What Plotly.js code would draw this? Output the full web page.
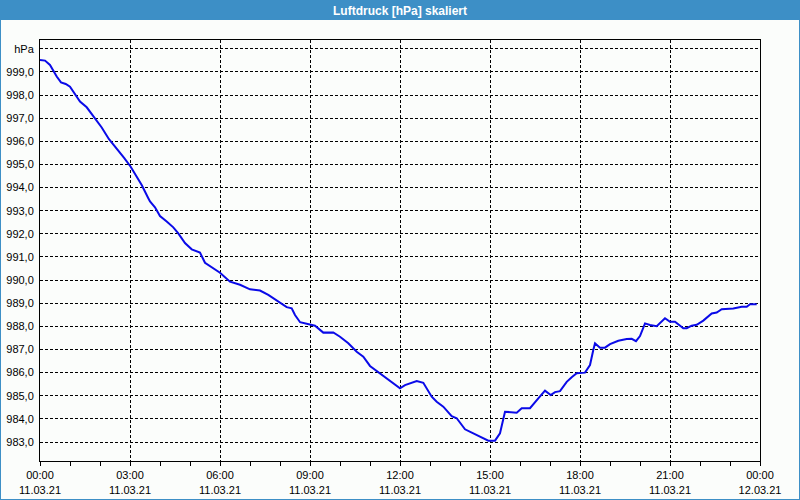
<!DOCTYPE html>
<html>
<head>
<meta charset="utf-8">
<script src="https://cdn.plot.ly/plotly-3.0.1.min.js"></script>
<style>
  html, body { margin:0; padding:0; background:#fbfdfb; }
  #wrap { position:relative; width:800px; height:500px; overflow:hidden; }
  #bar { position:absolute; left:0; top:0; width:800px; height:20px; background:#3d8fc6; }
  #frame { position:absolute; left:0; top:0; width:800px; height:500px; box-sizing:border-box;
           border:1px solid #3d8fc6; border-top:none; pointer-events:none; z-index:5; }
  #chart { position:absolute; left:0; top:0; width:800px; height:500px; z-index:2; }
</style>
</head>
<body>
<div id="wrap">
  <div id="bar"></div>
  <div id="chart"></div>
  <div id="frame"></div>
</div>
<script>
// Time in hours since 11.03.21 00:00
const hours = [0.0, 0.167, 0.333, 0.443, 0.557, 0.7, 0.857, 1.0, 1.143, 1.333, 1.557, 1.833, 2.057, 2.3, 2.557, 2.81,
  3.023, 3.223, 3.39, 3.61, 3.667, 3.833, 4.0, 4.223, 4.443, 4.61, 4.833, 5.057, 5.333, 5.5, 5.723, 6.0,
  6.333, 6.667, 7.0, 7.333, 7.61, 7.943, 8.223, 8.39, 8.5, 8.67, 8.89, 9.167, 9.443, 9.777, 10.0, 10.277,
  10.557, 10.777, 11.0, 11.333, 11.667, 12.0, 12.167, 12.557, 12.777, 13.0, 13.057, 13.223, 13.443, 13.723,
  13.89, 14.167, 14.443, 14.723, 14.943, 15.167, 15.333, 15.5, 15.667, 15.89, 16.057, 16.333, 16.61, 16.833,
  17.023, 17.167, 17.333, 17.557, 17.723, 17.89, 18.167, 18.333, 18.443, 18.5, 18.667, 18.833, 19.0, 19.277,
  19.557, 19.723, 19.867, 20.0, 20.167, 20.333, 20.557, 20.667, 20.833, 21.0, 21.167, 21.443, 21.557, 21.723,
  21.89, 22.11, 22.39, 22.557, 22.723, 23.11, 23.39, 23.557, 23.667, 23.89];
// Luftdruck in hPa
const pressure = [999.52, 999.49, 999.3, 999.04, 998.8, 998.55, 998.48, 998.36, 998.08, 997.72, 997.47, 997.0, 996.6, 996.09, 995.7, 995.27,
  994.9, 994.47, 994.11, 993.54, 993.4, 993.15, 992.77, 992.53, 992.28, 992.02, 991.6, 991.33, 991.19, 990.75, 990.55, 990.32,
  989.93, 989.8, 989.6, 989.55, 989.36, 989.07, 988.83, 988.78, 988.49, 988.18, 988.1, 988.03, 987.73, 987.74, 987.55, 987.27,
  986.9, 986.69, 986.29, 985.97, 985.68, 985.32, 985.46, 985.64, 985.56, 985.1, 984.96, 984.74, 984.53, 984.12,
  984.03, 983.55, 983.38, 983.19, 983.06, 983.06, 983.38, 984.31, 984.29, 984.27, 984.46, 984.46, 984.89, 985.22,
  985.03, 985.16, 985.2, 985.6, 985.8, 985.97, 986.0, 986.33, 986.98, 987.27, 987.08, 987.08, 987.23, 987.38,
  987.45, 987.46, 987.36, 987.58, 988.13, 988.06, 988.01, 988.13, 988.35, 988.2, 988.2, 987.92, 987.92, 988.03,
  988.07, 988.25, 988.56, 988.6, 988.74, 988.77, 988.85, 988.85, 988.96, 988.96];

const xTickVals = [0, 3, 6, 9, 12, 15, 18, 21, 24];
const xTickText = ["00:00<br>11.03.21", "03:00<br>11.03.21", "06:00<br>11.03.21", "09:00<br>11.03.21",
  "12:00<br>11.03.21", "15:00<br>11.03.21", "18:00<br>11.03.21", "21:00<br>11.03.21", "00:00<br>12.03.21"];
const yTickVals = [983, 984, 985, 986, 987, 988, 989, 990, 991, 992, 993, 994, 995, 996, 997, 998, 999, 1000];
const yTickText = ["983,0", "984,0", "985,0", "986,0", "987,0", "988,0", "989,0", "990,0", "991,0", "992,0",
  "993,0", "994,0", "995,0", "996,0", "997,0", "998,0", "999,0", "hPa"];

const font = { family: "Liberation Sans, Arial, sans-serif", size: 11, color: "#000" };

Plotly.newPlot("chart", [{
  x: hours, y: pressure, type: "scatter", mode: "lines",
  line: { color: "#0a0ae8", width: 2 }, hoverinfo: "skip"
}], {
  width: 800, height: 500,
  margin: { l: 40, r: 40, t: 40, b: 39, pad: 0 },
  paper_bgcolor: "rgba(0,0,0,0)",
  plot_bgcolor: "#fbfdfb",
  showlegend: false,
  font: font,
  title: {
    text: "<b>Luftdruck [hPa] skaliert</b>",
    font: { family: "Liberation Sans, Arial, sans-serif", size: 12, color: "#ffffff" },
    xref: "container", x: 0.5, xanchor: "center",
    yref: "container", y: 0.979, yanchor: "middle"
  },
  xaxis: {
    range: [0, 24], tickvals: xTickVals, ticktext: xTickText,
    showgrid: true, gridcolor: "#000", gridwidth: 1, griddash: "3px,2px",
    showline: true, linecolor: "#000", linewidth: 1, mirror: true, zeroline: false,
    ticks: "outside", ticklen: 4, tickcolor: "#000", tickwidth: 1,
    minor: { dtick: 1, tick0: 0, ticks: "outside", ticklen: 4, tickcolor: "#000", showgrid: false },
    tickfont: font, fixedrange: true
  },
  yaxis: {
    range: [982.18, 1000.38], tickvals: yTickVals, ticktext: yTickText,
    showgrid: true, gridcolor: "#000", gridwidth: 1, griddash: "3px,2px",
    showline: true, linecolor: "#000", linewidth: 1, mirror: true, zeroline: false,
    ticks: "", ticklabelstandoff: 3,
    tickfont: font, fixedrange: true
  }
}, { displayModeBar: false, staticPlot: true });
</script>
</body>
</html>
